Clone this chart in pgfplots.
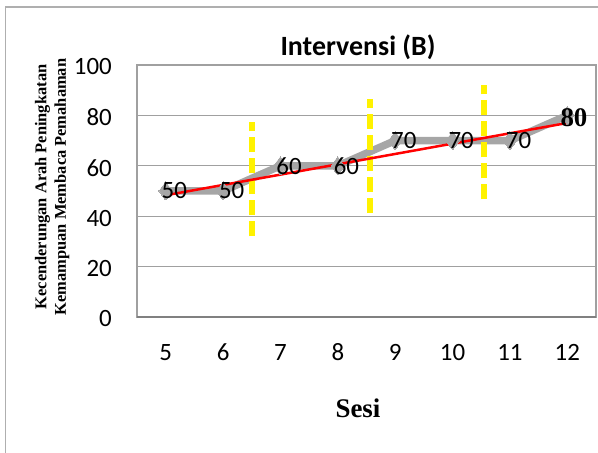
\documentclass[border=0pt]{standalone}
\usepackage{pgfplots}
\pgfplotsset{compat=1.18}
\usepackage{fontspec}
\setmainfont{Carlito}
\newfontfamily\tnr{Liberation Serif}
\definecolor{linegray}{RGB}{166,166,166}
\definecolor{gridgray}{RGB}{160,160,160}
\definecolor{axisgray}{RGB}{128,128,128}
\definecolor{bordergray}{RGB}{175,175,175}
\begin{document}
\begin{tikzpicture}
\begin{axis}[
  at={(137bp,136bp)}, anchor=south west,
  scale only axis, width=459bp, height=252bp,
  xmin=4.5, xmax=12.5, ymin=0, ymax=100,
  xtick={5,6,7,8,9,10,11,12},
  ytick={0,20,40,60,80,100},
  /pgf/number format/assume math mode=true,
  tick style={draw=none},
  major tick length=0pt,
  ymajorgrids,
  grid style={line width=1.2bp, color=gridgray},
  axis line style={line width=1.2bp, draw=gridgray},
  extra y ticks={0}, extra y tick labels={},
  extra y tick style={grid style={line width=1.6bp, color=axisgray}},
  tick label style={font=\fontsize{25}{29}\selectfont, inner sep=0pt},
  xticklabel style={anchor=center, yshift=-35.5bp},
  yticklabel style={anchor=east, xshift=-25bp, yshift=-2bp},
  title={\bfseries Intervensi (B)},
  every axis title/.style={at={(rel axis cs:0.4815,1.071)}, anchor=center, font=\fontsize{28}{32}\selectfont},
  xlabel={Sesi},
  every axis x label/.style={at={(rel axis cs:0.4815,-0.361)}, anchor=center, font=\tnr\bfseries\fontsize{27}{31}\selectfont},
  ylabel={Kecenderungan Arah Peningkatan\\Kemampuan Membaca Pemahaman},
  every axis y label/.style={at={(rel axis cs:-0.185,0.516)}, anchor=center, rotate=90, align=center, font=\tnr\bfseries\fontsize{16.5}{19.5}\selectfont},
  clip=false,
]
% main series
\addplot[color=linegray, line width=7.5bp, mark=diamond*, mark size=9bp,
  mark options={fill=linegray, draw=linegray, line width=0pt},
  nodes near coords, point meta=explicit symbolic,
  every node near coord/.style={anchor=west, xshift=-4bp, inner sep=0pt, text=black, font=\fontsize{25}{29}\selectfont}]
  table[meta=lab] {
x y lab
5 50 50
6 50 50
7 60 60
8 60 60
9 70 70
10 70 70
11 70 70
12 80 {}
};
% yellow phase lines
\addplot[color=yellow, line width=5.5bp, dash pattern=on 15bp off 6bp] coordinates {(6.5,32) (6.5,77.5)};
\addplot[color=yellow, line width=5.5bp, dash pattern=on 15bp off 6bp] coordinates {(8.56,41.2) (8.56,86.4)};
\addplot[color=yellow, line width=5.5bp, dash pattern=on 15bp off 6bp] coordinates {(10.55,46.7) (10.55,92.1)};
% trend line
\addplot[color=red, line width=2.5bp] coordinates {(5,48.3) (12,77)};
% last label
\addplot[draw=none, mark=none, nodes near coords, point meta=explicit symbolic,
  every node near coord/.style={anchor=west, xshift=-7bp, yshift=-2bp, inner sep=0pt, text=black, font=\tnr\bfseries\fontsize{27}{31}\selectfont}]
  table[meta=lab] {
x y lab
12 80 80
};
\end{axis}
\draw[bordergray, line width=1.3bp] (5.5bp,0bp) -- (5.5bp,446bp) -- (598bp,446bp);
\pgfresetboundingbox
\useasboundingbox (0bp,0bp) rectangle (598bp,453bp);
\end{tikzpicture}
\end{document}
